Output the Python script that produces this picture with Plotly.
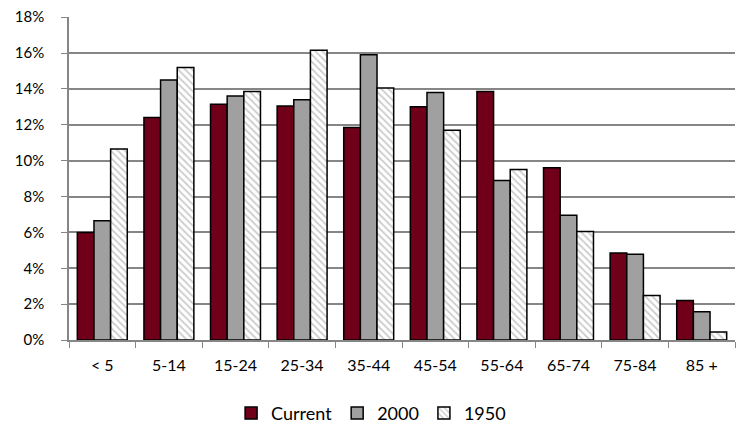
import plotly.graph_objects as go

categories = ["< 5", "5-14", "15-24", "25-34", "35-44", "45-54", "55-64", "65-74", "75-84", "85 +"]
current = [6.0, 12.4, 13.15, 13.05, 11.85, 13.0, 13.85, 9.6, 4.85, 2.2]
y2000 = [6.65, 14.5, 13.6, 13.4, 15.9, 13.8, 8.9, 6.95, 4.78, 1.58]
y1950 = [10.65, 15.2, 13.85, 16.15, 14.05, 11.7, 9.5, 6.05, 2.48, 0.45]

font = dict(family="Lato, Open Sans, sans-serif", size=16, color="#000000")

fig = go.Figure()
fig.add_trace(go.Bar(x=categories, y=[v / 100 for v in current], name="Current",
                     marker=dict(color="#70001A", line=dict(color="#000000", width=1.5))))
fig.add_trace(go.Bar(x=categories, y=[v / 100 for v in y2000], name="2000",
                     marker=dict(color="#A0A0A0", line=dict(color="#000000", width=1.5))))
fig.add_trace(go.Bar(x=categories, y=[v / 100 for v in y1950], name="1950",
                     marker=dict(color="#FFFFFF", line=dict(color="#000000", width=1.5),
                                 pattern=dict(shape="\\", fgcolor="#999999", bgcolor="#FFFFFF",
                                              size=5, solidity=0.35))))

fig.update_layout(
    width=741, height=420,
    margin=dict(l=61, r=14, t=9, b=88, autoexpand=False),
    paper_bgcolor="#FFFFFF", plot_bgcolor="#FFFFFF",
    barmode="group", bargap=0.25, bargroupgap=0,
    font=font,
    showlegend=True,
    legend=dict(orientation="h", xref="container",
                x=0.49, xanchor="center", y=-0.17, yanchor="top",
                font=dict(size=18), traceorder="normal",
                tracegroupgap=0),
    xaxis=dict(showline=True, linecolor="#868686", linewidth=1.5, ticks="outside",
               tickson="boundaries", ticklen=6, tickcolor="#868686", showgrid=False,
               tickfont=dict(size=16), ticklabelstandoff=10),
    yaxis=dict(range=[0, 0.1801], tickvals=[i / 100 for i in range(0, 19, 2)],
               tickformat=".0%", showline=True, ticklabeloverflow="allow",
               linecolor="#868686", linewidth=1.5, ticks="outside", ticklen=6,
               tickcolor="#868686", gridcolor="#868686", gridwidth=1.5,
               zeroline=False, tickfont=dict(size=15), ticklabelstandoff=14),
)

fig.write_html("out.html")
